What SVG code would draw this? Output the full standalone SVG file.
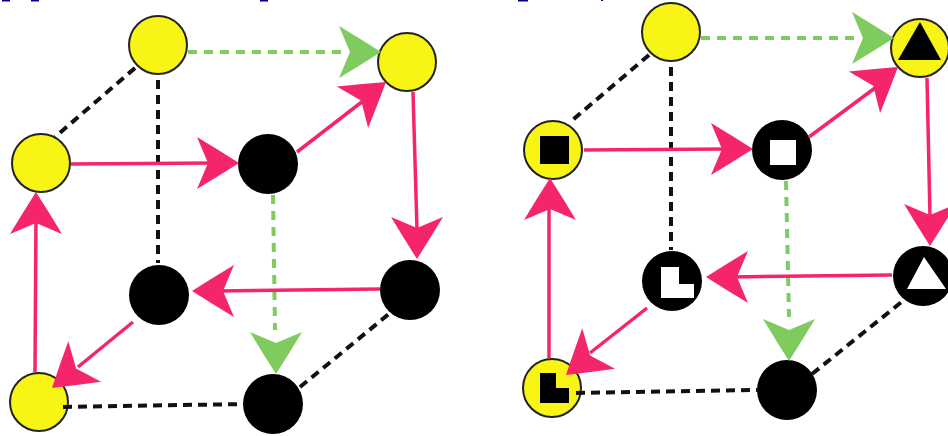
<svg xmlns="http://www.w3.org/2000/svg" width="948" height="436" viewBox="0 0 948 436">
<style>
.y{fill:#f7f416;stroke:#222;stroke-width:2}
.k{fill:#000}
.w{fill:#fff}
.d{fill:#000}
.r{stroke:#f5256b;stroke-width:3.5;fill:none}
.g{stroke:#7fcb5e;stroke-width:4;fill:none;stroke-dasharray:9 7}
.b{stroke:#111;stroke-width:4;fill:none;stroke-dasharray:9 6}
.ra{fill:#f5256b}
.ga{fill:#7fcb5e}
.t{fill:#00008c}
</style>
<defs>
<path id="ah" d="M0 0Q-22 -14 -42 -26L-31 0L-42 26Q-22 14 0 0Z"/>
</defs>
<rect width="948" height="436" fill="#fff"/>
<g id="header-fragments">
<rect class="t" x="2" y="0" width="8" height="1.5"/><rect class="t" x="31" y="0" width="8" height="1.5"/><rect class="t" x="260" y="0" width="8" height="1.5"/><rect class="t" x="518" y="0" width="10" height="1.5"/><rect class="t" x="601" y="0" width="2" height="1"/>
</g>
<g id="n1"><circle class="y" cx="158" cy="45" r="29"/></g>
<g id="n2"><circle class="y" cx="407" cy="62" r="29"/></g>
<g id="n3"><circle class="y" cx="41" cy="163" r="29"/></g>
<g id="n4"><circle class="d" cx="268" cy="164" r="30"/></g>
<g id="n5"><circle class="d" cx="159" cy="295" r="30"/></g>
<g id="n6"><circle class="d" cx="410" cy="290" r="30"/></g>
<g id="n7"><circle class="y" cx="39" cy="402" r="29"/></g>
<g id="n8"><circle class="d" cx="273" cy="404" r="30"/></g>
<g id="m1"><circle class="y" cx="671" cy="32" r="29"/></g>
<g id="m2"><circle class="y" cx="920" cy="48" r="29"/><path class="k" d="M920 22L941 60H898Z"/></g>
<g id="m3"><circle class="y" cx="553" cy="150" r="29"/><rect class="k" x="540" y="136" width="29" height="28"/></g>
<g id="m4"><circle class="d" cx="782" cy="150" r="30"/><rect class="w" x="770" y="140" width="26" height="25"/></g>
<g id="m5"><circle class="d" cx="672" cy="281" r="30"/><path class="w" d="M661 267H679V284H694V298H661Z"/></g>
<g id="m6"><circle class="d" cx="923" cy="276" r="30"/><path class="w" d="M924 257L946 289H907Z"/></g>
<g id="m7"><circle class="y" cx="552" cy="388" r="29"/><path class="k" d="M540 373H556V388H569V403H540Z"/></g>
<g id="m8"><circle class="d" cx="787" cy="390" r="30"/></g>
<g id="connectors">
<path class="b" d="M135 68L55 137"/>
<path class="b" d="M158 80V263"/>
<path class="b" d="M63 407L245 404"/>
<path class="b" d="M300 387L390 313"/>
<path class="g" d="M188 52H346"/>
<path class="g" d="M273 195L275 330"/>
<path class="r" d="M71 164L215 163"/>
<path class="r" d="M297 152L363 101"/>
<path class="r" d="M413 92L417 230"/>
<path class="r" d="M380 289L215 291"/>
<path class="r" d="M133 322L78 367"/>
<path class="r" d="M35 372L36 215"/>
<use href="#ah" class="ga" transform="translate(381,52)"/>
<use href="#ah" class="ga" transform="translate(276,374) rotate(90)"/>
<use href="#ah" class="ra" transform="translate(239,163)"/>
<use href="#ah" class="ra" transform="translate(386,82) rotate(-37)"/>
<use href="#ah" class="ra" transform="translate(417,259) rotate(90)"/>
<use href="#ah" class="ra" transform="translate(192,291) rotate(180)"/>
<use href="#ah" class="ra" transform="translate(52,388) rotate(141)"/>
<use href="#ah" class="ra" transform="translate(36,192) rotate(-90)"/>
<path class="b" d="M649 55L569 123"/>
<path class="b" d="M671 67V250"/>
<path class="b" d="M576 393L757 390"/>
<path class="b" d="M812 374L904 300"/>
<path class="g" d="M701 38H856"/>
<path class="g" d="M786 181L789 317"/>
<path class="r" d="M584 150L729 149"/>
<path class="r" d="M809 137L875 88"/>
<path class="r" d="M927 78L930 217"/>
<path class="r" d="M892 275L730 277"/>
<path class="r" d="M647 308L590 353"/>
<path class="r" d="M549 358L549 200"/>
<use href="#ah" class="ga" transform="translate(894,38)"/>
<use href="#ah" class="ga" transform="translate(789,361) rotate(90)"/>
<use href="#ah" class="ra" transform="translate(753,149)"/>
<use href="#ah" class="ra" transform="translate(898,67) rotate(-37)"/>
<use href="#ah" class="ra" transform="translate(930,246) rotate(90)"/>
<use href="#ah" class="ra" transform="translate(706,277) rotate(180)"/>
<use href="#ah" class="ra" transform="translate(566,375) rotate(141)"/>
<use href="#ah" class="ra" transform="translate(550,178) rotate(-90)"/>
</g>
</svg>
